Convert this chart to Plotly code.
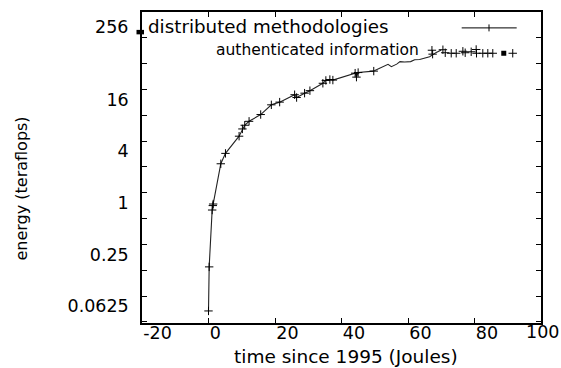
import math
import plotly.graph_objects as go

# ---- data ----
# "distributed methodologies" (line + points)
s1_x = [0.0, 0.2, 1.1, 1.3, 1.4, 3.7, 5.1, 9.2, 10.2, 10.9, 12.2, 15.7, 18.9, 21.4,
        25.9, 26.5, 28.9, 30.5, 34.4, 35.3, 36.5, 37.4, 44.1, 44.5, 45.0, 49.7]
s1_y = [0.042, 0.137, 0.63, 0.71, 0.74, 2.18, 2.88, 4.57, 5.55, 6.13, 6.81, 8.17, 10.6, 11.4,
        13.9, 12.9, 14.5, 15.5, 18.9, 20.4, 20.9, 20.6, 24.8, 22.3, 25.2, 26.2]
# continuation of the same curve drawn without point marks
s1_tail_x = [49.7, 53.0, 54.0, 55.0, 56.6, 57.6, 59.0, 60.8, 62.0, 63.5, 64.5, 66.5, 68.5, 70.0]
s1_tail_y = [26.2, 29.9, 31.4, 29.5, 31.6, 33.8, 33.5, 33.8, 35.6, 35.8, 36.9, 38.6, 43.3, 46.1]

# "authenticated information" (points)
s2_x = [67.2, 67.4, 70.5, 71.2, 73.0, 74.5, 76.5, 77.2, 79.0, 80.5, 80.6, 82.5, 84.0, 85.5, 91.5]
s2_y = [45.9, 41.3, 46.5, 42.9, 42.3, 42.3, 44.6, 42.9, 44.0, 46.8, 42.3, 42.3, 42.3, 42.3, 42.3]
s2_sq_x = [88.8]
s2_sq_y = [42.3]

series_names = ["distributed methodologies", "authenticated information"]

x_tick_vals = [-20, 0, 20, 40, 60, 80, 100]
x_tick_text = ["-20", "0", "20", "40", "60", "80", ""]
x_last_label = "100"
y_tick_exps = list(range(-5, 8))
y_label_vals = [0.0625, 0.25, 1, 4, 16]
y_label_text = ["0.0625", "0.25", "1", "4", "16"]
y_top_label = "256"
x_title = "time since 1995 (Joules)"
y_title = "energy (teraflops)"

# ---- layout geometry (pixels) ----
W, H = 561, 368
L, R, T, B = 142, 541, 10, 323
FONT = "DejaVu Sans"


def fx(p):
    return (p - L) / (R - L)


def fy(p):
    return (B - p) / (B - T)


y_tick_vals = [2.0 ** k for k in y_tick_exps]
lab = dict(zip(y_label_vals, y_label_text))
y_tick_text = [lab.get(v, "") for v in y_tick_vals]

cross = dict(symbol="cross-thin", size=6, line=dict(width=1, color="black"), color="black")

fig = go.Figure()
fig.add_trace(go.Scatter(x=s1_x, y=s1_y, mode="lines+markers", name=series_names[0],
                         line=dict(color="#222", width=1.1), marker=cross))
fig.add_trace(go.Scatter(x=s1_tail_x, y=s1_tail_y, mode="lines", name=series_names[0],
                         line=dict(color="#222", width=1.1)))
fig.add_trace(go.Scatter(x=s2_x, y=s2_y, mode="markers", name=series_names[1], marker=cross))
fig.add_trace(go.Scatter(x=s2_sq_x, y=s2_sq_y, mode="markers", name=series_names[1],
                         marker=dict(symbol="square", size=5, color="black")))

ylo = -5.04 * math.log10(2)
yhi = 7.0 * math.log10(2)

fig.update_layout(
    width=W, height=H,
    margin=dict(l=L, r=W - R, t=T, b=H - B, pad=0),
    paper_bgcolor="white", plot_bgcolor="white",
    showlegend=False,
    font=dict(family=FONT, color="black"),
    xaxis=dict(range=[-20, 100], tickmode="array", tickvals=x_tick_vals, ticktext=x_tick_text,
               ticks="inside", ticklen=5, tickwidth=1, tickcolor="black",
               showline=True, linecolor="black", linewidth=1.5, mirror="ticks",
               showgrid=False, zeroline=False, ticklabelposition="outside right",
               ticklabelstandoff=-7,
               tickfont=dict(size=17.5, family=FONT, color="black")),
    yaxis=dict(type="log", range=[ylo, yhi], tickmode="array", tickvals=y_tick_vals,
               ticktext=y_tick_text, ticks="inside", ticklen=5, tickwidth=1, tickcolor="black",
               showline=True, linecolor="black", linewidth=1.5, mirror="ticks",
               showgrid=False, zeroline=False, ticklabelshift=10, ticklabelstandoff=8,
               tickfont=dict(size=17.5, family=FONT, color="black")),
)

ann = []
ann.append(dict(text=x_last_label, xref="paper", yref="paper", x=fx(542), y=fy(332),
                xanchor="center", yanchor="middle", showarrow=False,
                font=dict(size=17.5, family=FONT, color="black")))
ann.append(dict(text=y_top_label, xref="paper", yref="paper", x=fx(130), y=fy(25),
                xanchor="right", yanchor="middle", showarrow=False,
                font=dict(size=17.5, family=FONT, color="black")))
ann.append(dict(text=x_title, xref="paper", yref="paper", x=fx(345.6), y=fy(357),
                xanchor="center", yanchor="middle", showarrow=False,
                font=dict(size=18.5, family=FONT, color="black")))
ann.append(dict(text=y_title, xref="paper", yref="paper", x=fx(21.7), y=fy(188),
                xanchor="center", yanchor="middle", showarrow=False, textangle=-90,
                font=dict(size=16, family=FONT, color="black")))
ann.append(dict(text=series_names[0], xref="paper", yref="paper", x=fx(146), y=fy(25),
                xanchor="left", yanchor="middle", showarrow=False,
                font=dict(size=18.3, family=FONT, color="black")))
ann.append(dict(text=series_names[1], xref="paper", yref="paper", x=fx(214), y=fy(48.5),
                xanchor="left", yanchor="middle", showarrow=False,
                font=dict(size=15.5, family=FONT, color="black")))
fig.update_layout(annotations=ann)

shapes = []
# legend sample for the line series
shapes.append(dict(type="line", xref="paper", yref="paper", x0=fx(461.7), x1=fx(516.7),
                   y0=fy(26), y1=fy(26), line=dict(color="black", width=1)))
shapes.append(dict(type="line", xref="paper", yref="paper", x0=fx(489), x1=fx(489),
                   y0=fy(22.5), y1=fy(29.5), line=dict(color="black", width=1)))
# small black mark at the top-left of the frame
shapes.append(dict(type="rect", xref="paper", yref="paper", x0=fx(136.5), x1=fx(144),
                   y0=fy(32.5), y1=fy(28), line=dict(width=0), fillcolor="black"))
fig.update_layout(shapes=shapes)

fig.write_html("out.html", config={"displayModeBar": False},
               post_script="document.body.style.margin='0';document.body.style.padding='0';")
